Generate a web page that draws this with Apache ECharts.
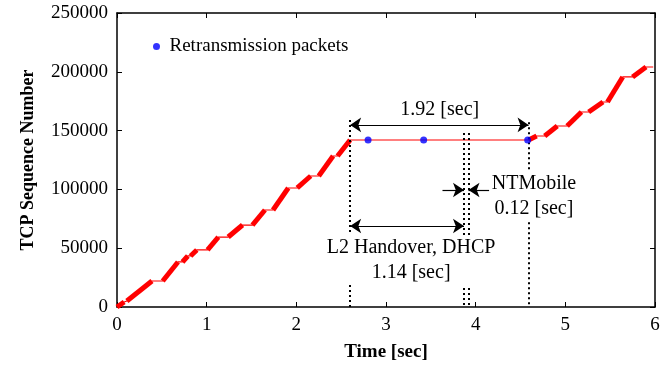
<!DOCTYPE html>
<html>
<head>
<meta charset="utf-8">
<script src="https://cdn.jsdelivr.net/npm/echarts@6/dist/echarts.min.js"></script>
<style>
  html, body { margin: 0; padding: 0; background: #fff; }
  #chart { width: 663px; height: 367px; }
</style>
</head>
<body>
<div id="chart"></div>
<script>
// sequence trace: corner points of the staircase (time in sec, sequence number)
const seqTime  = [0, 0.08, 0.11, 0.39, 0.51, 0.68, 0.73, 0.79, 0.82, 0.89, 1.01, 1.13, 1.24, 1.40, 1.51, 1.65, 1.74, 1.91, 2.01, 2.16, 2.25, 2.41, 2.46, 2.60,
                  4.59, 4.68, 4.77, 4.91, 5.02, 5.18, 5.26, 5.42, 5.47, 5.64, 5.75, 5.90, 5.98]
const seqValue = [0, 4300, 5100, 22100, 22100, 38300, 38300, 43400, 43400, 48500, 48500, 59500, 59500, 69700, 69700, 82500, 82500, 101200, 101200, 111400, 111400, 128400, 128400, 142000,
                  142000, 145400, 145400, 153900, 153900, 165800, 165800, 174300, 174300, 195600, 195600, 204100, 204100]
// 1 = segment ending at this point is a burst of packets, 0 = idle gap
const burstSeg = [0, 1, 0, 1, 0, 1, 0, 1, 0, 1, 0, 1, 0, 1, 0, 1, 0, 1, 0, 1, 0, 1, 0, 1,
                  0, 1, 0, 1, 0, 1, 0, 1, 0, 1, 0, 1, 0]

const retransTime = [2.80, 3.42, 4.58]
const retransValue = [142000, 142000, 142000]

const xTicks = [0, 6, 1]
const yTicks = [0, 250000, 50000]

// dotted markers: [time, top value]
const markerLines = [[2.60, 159000], [3.87, 148000], [3.92, 148000], [4.59, 157000]]

// arrows: [t0, t1, value, arrow at start, arrow at end]
const arrows = [
  [2.60, 4.59, 154800, 1, 1],
  [2.60, 3.87, 68900, 1, 1],
  [3.63, 3.87, 99500, 0, 1],
  [4.15, 3.92, 99500, 0, 1],
]

// annotation texts: [text, time, value]
const notes = [
  ["1.92 [sec]", 3.60, 167500],
  ["L2 Handover, DHCP\n1.14 [sec]", 3.28, 40000],
  ["NTMobile\n0.12 [sec]", 4.65, 94400],
]

const serif = "Liberation Serif"
const chart = echarts.init(document.getElementById("chart"))

const lineData = seqTime.map((t, i) => [t, seqValue[i]])
const burstData = []
for (let i = 1; i < seqTime.length; i++) {
  if (burstSeg[i]) burstData.push({ coords: [lineData[i - 1], lineData[i]] })
}

const axisCommon = {
  type: "value",
  axisLine: { show: true, onZero: false, lineStyle: { color: "#000", width: 1.5 } },
  axisTick: { show: true, inside: true, length: 5, lineStyle: { color: "#000", width: 1 } },
  splitLine: { show: false },
}

const option = {
  animation: false,
  grid: { left: 117, right: 8, top: 13, bottom: 60 },
  legend: {
    left: 153,
    top: 37,
    padding: 0,
    itemWidth: 16,
    itemHeight: 7,
    itemGap: 5,
    textStyle: { fontFamily: serif, fontSize: 19, color: "#000" },
    data: [{ name: "Retransmission packets", icon: "circle" }],
  },
  xAxis: [
    {
      ...axisCommon,
      min: xTicks[0], max: xTicks[1], interval: xTicks[2],
      name: "Time [sec]",
      nameLocation: "middle",
      nameGap: 36,
      nameTextStyle: { fontFamily: serif, fontSize: 19, fontWeight: "bold", color: "#000" },
      axisLabel: { fontFamily: serif, fontSize: 19, color: "#000", margin: 9 },
    },
    {
      ...axisCommon,
      position: "top",
      min: xTicks[0], max: xTicks[1], interval: xTicks[2],
      axisLabel: { show: false },
    },
  ],
  yAxis: [
    {
      ...axisCommon,
      min: yTicks[0], max: yTicks[1], interval: yTicks[2],
      name: "TCP Sequence Number",
      nameLocation: "middle",
      nameGap: 80,
      nameTextStyle: { fontFamily: serif, fontSize: 18, fontWeight: "bold", color: "#000" },
      axisLabel: { fontFamily: serif, fontSize: 19, color: "#000", margin: 9, formatter: (v) => String(v) },
    },
    {
      ...axisCommon,
      position: "right",
      min: yTicks[0], max: yTicks[1], interval: yTicks[2],
      axisLabel: { show: false },
    },
  ],
  series: [
    {
      name: "trace",
      type: "line",
      data: lineData,
      showSymbol: false,
      lineStyle: { color: "#ff0000", width: 1.2 },
      z: 2,
      markLine: {
        silent: true,
        symbol: "none",
        label: { show: false },
        lineStyle: { color: "#000", width: 2, type: [2, 3] },
        data: markerLines.map(([t, top]) => [{ coord: [t, top] }, { coord: [t, 0] }]),
      },
    },
    {
      name: "bursts",
      type: "lines",
      coordinateSystem: "cartesian2d",
      data: burstData,
      lineStyle: { color: "#ff0000", width: 5, opacity: 1, cap: "butt" },
      z: 3,
    },
    {
      name: "arrows",
      type: "line",
      data: [],
      markLine: {
        silent: true,
        symbolSize: [11, 11],
        label: { show: false },
        lineStyle: { color: "#000", width: 1.2, type: "solid" },
        data: arrows.map(([t0, t1, v, s0, s1]) => [
          { coord: [t0, v], symbol: s0 ? "arrow" : "none" },
          { coord: [t1, v], symbol: s1 ? "arrow" : "none" },
        ]),
      },
    },
    {
      name: "Retransmission packets",
      type: "scatter",
      data: retransTime.map((t, i) => [t, retransValue[i]]),
      symbol: "circle",
      symbolSize: 7,
      itemStyle: { color: "#0000ff" },
      z: 5,
    },
  ],
}

chart.setOption(option)

chart.setOption({
  graphic: notes.map(([text, t, v]) => {
    const [px, py] = chart.convertToPixel({ gridIndex: 0 }, [t, v])
    return {
      type: "text",
      z: 100,
      x: px,
      y: py,
      style: {
        text,
        font: "20px " + serif,
        fill: "#000",
        align: "center",
        verticalAlign: "middle",
        lineHeight: 25,
        backgroundColor: "#fff",
        padding: [0, 2],
      },
    }
  }),
})
</script>
</body>
</html>
